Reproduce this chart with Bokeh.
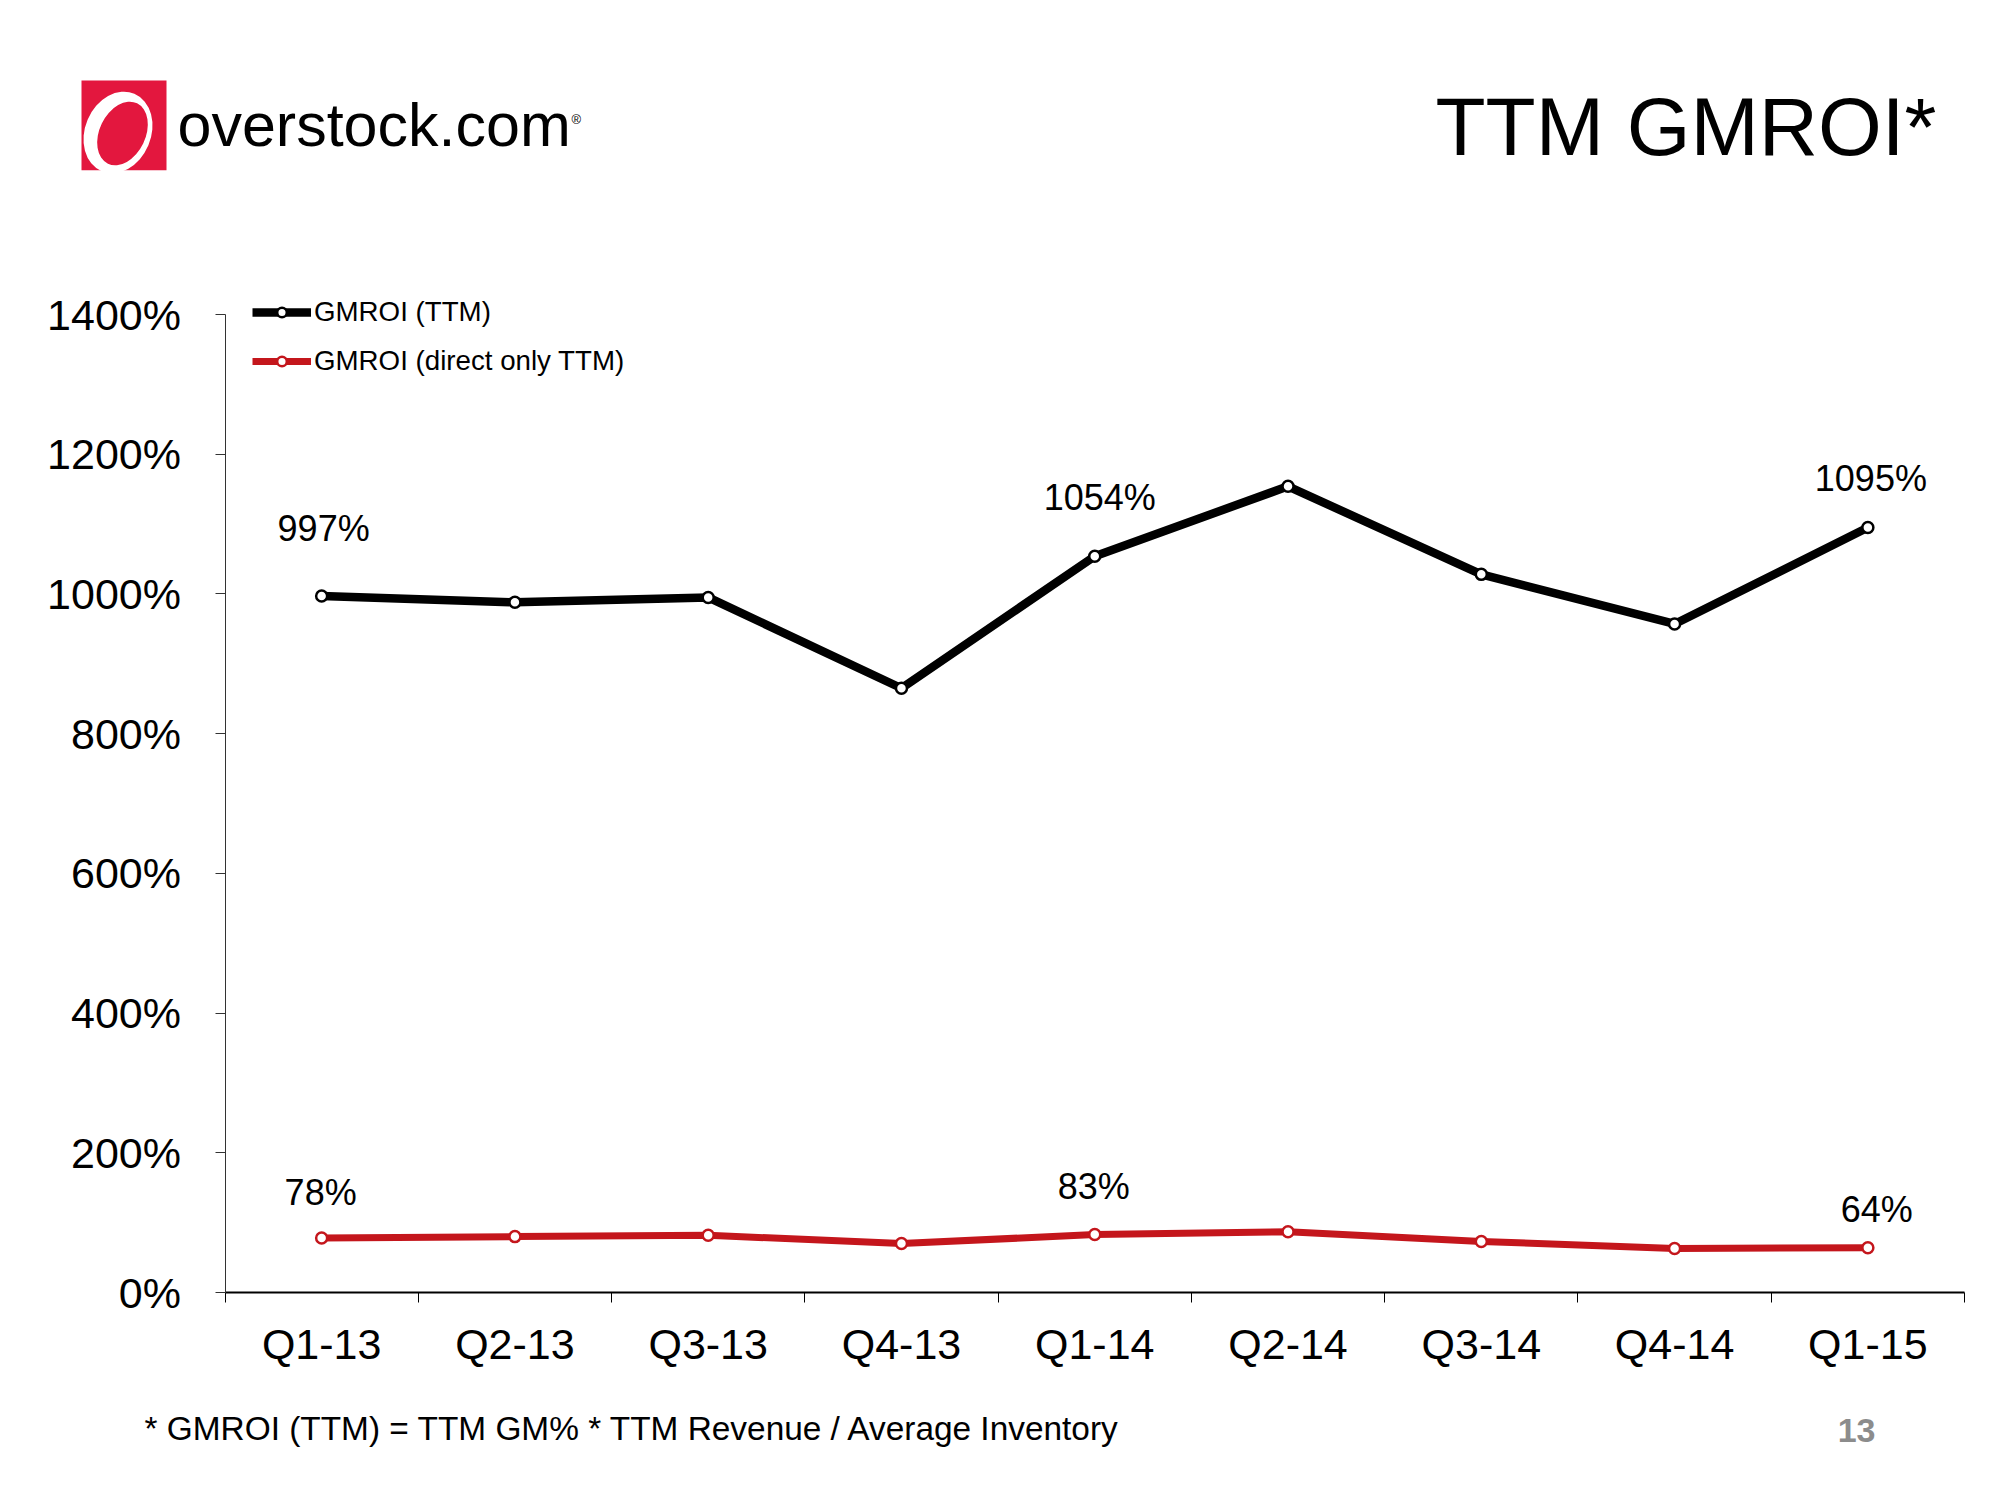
from bokeh.plotting import figure
from bokeh.models import (Range1d, FixedTicker, PrintfTickFormatter, Legend, LegendItem,
                          Label, LabelSet, ColumnDataSource)
from bokeh.core.properties import value
from bokeh.embed import file_html
from bokeh.resources import INLINE

# ---------------- data ----------------
quarters = ["Q1-13", "Q2-13", "Q3-13", "Q4-13", "Q1-14", "Q2-14", "Q3-14", "Q4-14", "Q1-15"]
gmroi_ttm = [997, 988, 995, 865, 1054, 1154, 1028, 957, 1095]
gmroi_direct = [78, 80, 82, 70, 83, 87, 73, 63, 64]
labeled_points = [0, 4, 8]
y_ticks = [0, 200, 400, 600, 800, 1000, 1200, 1400]
Y_MAX = 1400

# ---------------- styles / layout ----------------
FONT = "Liberation Sans"
BLACK = "#000000"
RED = "#C4161C"
LOGO_RED = "#E3173E"
ttm_label_dy = [68, 59, 49]
direct_label_dy = [46, 48, 38]
ttm_label_dx = [2, 5, 3]
direct_label_dx = [-1, -1, 9]

W, H = 1984, 1484
AX_LEFT, AX_RIGHT = 224.5, 1964.0      # page px of x-axis extent
AX_BOTTOM, AX_TOP = 1292.0, 314.0      # page px of 0% and 1400%

n = len(quarters)
kx = (AX_RIGHT - AX_LEFT) / n
ky = (AX_BOTTOM - AX_TOP) / Y_MAX


def px2x(px):
    return (px - AX_LEFT) / kx


def py2y(py):
    return (AX_BOTTOM - py) / ky


centers = [i + 0.5 for i in range(n)]
boundaries = list(range(n + 1))

p = figure(width=W, height=H, output_backend="svg", toolbar_location=None,
           x_range=Range1d(px2x(0), px2x(W)), y_range=Range1d(py2y(H), py2y(0)),
           min_border=0, min_border_left=0, min_border_right=0,
           min_border_top=0, min_border_bottom=0)
p.title.visible = False
p.outline_line_color = None
p.grid.visible = False

# x axis
xa = p.xaxis[0]
xa.fixed_location = 0
xa.bounds = (0, n)
xa.ticker = FixedTicker(ticks=centers, minor_ticks=boundaries)
xa.major_label_overrides = {c: q for c, q in zip(centers, quarters)}
xa.major_tick_line_color = None
xa.major_tick_out = 0
xa.major_tick_in = 0
xa.minor_tick_out = 10
xa.minor_tick_in = 0
xa.minor_tick_line_color = BLACK
xa.minor_tick_line_width = 1
xa.axis_line_color = BLACK
xa.axis_line_width = 2
xa.major_label_standoff = 17
xa.major_label_text_font = FONT
xa.major_label_text_font_size = "43px"
xa.major_label_text_color = BLACK

# y axis
ya = p.yaxis[0]
ya.fixed_location = 0
ya.bounds = (0, Y_MAX)
ya.ticker = FixedTicker(ticks=y_ticks)
ya.formatter = PrintfTickFormatter(format="%d%%")
ya.major_tick_out = 10
ya.major_tick_in = 0
ya.minor_tick_line_color = None
ya.major_tick_line_color = "#333333"
ya.axis_line_color = "#333333"
ya.axis_line_width = 1
ya.major_label_standoff = 34
ya.major_label_text_font = FONT
ya.major_label_text_font_size = "43px"
ya.major_label_text_color = BLACK

# series
l1 = p.line(centers, gmroi_ttm, line_width=8.5, line_color=BLACK, line_join="round")
s1 = p.scatter(centers, gmroi_ttm, size=11, fill_color="white", line_color=BLACK, line_width=2.5)
l2 = p.line(centers, gmroi_direct, line_width=7, line_color=RED, line_join="round")
s2 = p.scatter(centers, gmroi_direct, size=11, fill_color="white", line_color=RED, line_width=2.5)

# data labels
src1 = ColumnDataSource(dict(
    x=[centers[i] for i in labeled_points],
    y=[gmroi_ttm[i] for i in labeled_points],
    t=["%d%%" % gmroi_ttm[i] for i in labeled_points],
    dx=ttm_label_dx, dy=ttm_label_dy))
src2 = ColumnDataSource(dict(
    x=[centers[i] for i in labeled_points],
    y=[gmroi_direct[i] for i in labeled_points],
    t=["%d%%" % gmroi_direct[i] for i in labeled_points],
    dx=direct_label_dx, dy=direct_label_dy))
for src in (src1, src2):
    p.add_layout(LabelSet(x="x", y="y", text="t", source=src, x_offset="dx", y_offset="dy",
                          text_align="center", text_baseline="middle",
                          text_font=value(FONT), text_font_size=value("36px"),
                          text_color=BLACK))

# legend (location = bottom-left corner of the legend box, frame px, y up)
legend = Legend(items=[LegendItem(label="GMROI (TTM)", renderers=[l1, s1]),
                       LegendItem(label="GMROI (direct only TTM)", renderers=[l2, s2])],
                location=(252, H - 377), orientation="vertical",
                glyph_width=59, glyph_height=24, label_standoff=3, spacing=17,
                padding=0, margin=0, border_line_color=None, background_fill_alpha=0,
                label_text_font=FONT, label_text_font_size="27.7px", label_text_color=BLACK)
p.add_layout(legend)

# ---------------- slide decorations ----------------
p.rect(x=[px2x(123.5)], y=[py2y(125)], width=85, height=90,
       width_units="screen", height_units="screen", fill_color=LOGO_RED, line_color=None)
p.ellipse(x=[px2x(117.5)], y=[py2y(132)], width=66, height=84, angle=-0.4,
          width_units="screen", height_units="screen", fill_color="white", line_color=None)
p.ellipse(x=[px2x(122)], y=[py2y(133)], width=46, height=67, angle=-0.45,
          width_units="screen", height_units="screen", fill_color=LOGO_RED, line_color=None)
# keep the white "O" inside the square at its bottom edge
p.rect(x=[px2x(123.5)], y=[py2y(178)], width=120, height=16,
       width_units="screen", height_units="screen", fill_color="white", line_color=None)


def add_text(px, py, text, size, align="left", color=BLACK, style="normal"):
    p.add_layout(Label(x=px2x(px), y=py2y(py), text=text, text_align=align,
                       text_baseline="middle", text_font=FONT, text_font_size=size,
                       text_color=color, text_font_style=style))


add_text(177, 124.7, "overstock.com", "61px")
add_text(571, 119, "®", "13px")
add_text(1936, 126.3, "TTM GMROI*", "82px", align="right")
add_text(144, 1428, "* GMROI (TTM) = TTM GM% * TTM Revenue / Average Inventory", "33.4px")
add_text(1875, 1430, "13", "34px", align="right", color="#8C8C8C", style="bold")

open("out.html", "w").write(file_html(p, INLINE))
